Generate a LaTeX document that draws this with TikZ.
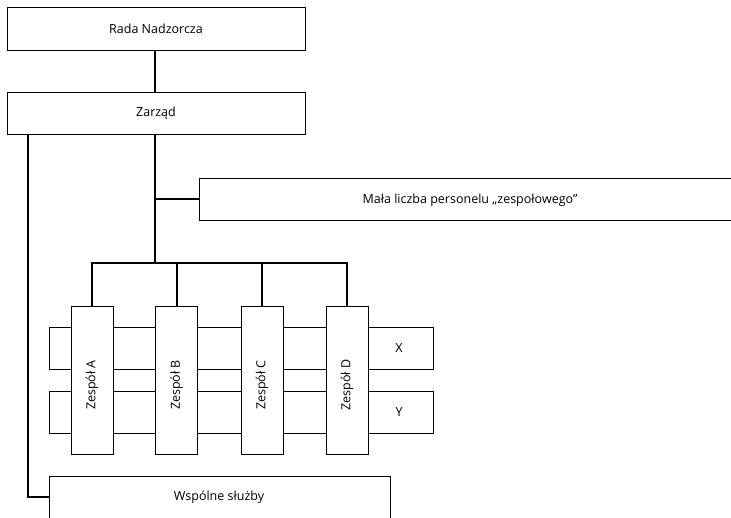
\documentclass[tikz,border=0pt]{standalone}
\usepackage{fontspec}
\setmainfont{Open Sans}
\begin{document}
\begin{tikzpicture}[x=1pt,y=-1pt,
  box/.style={draw=black, fill=white, line width=1pt, inner sep=0pt},
  link/.style={draw=black, line width=2pt},
  lbl/.style={font=\fontsize{12.5}{14}\selectfont, inner sep=0pt},
  teambox/.style={box, minimum width=42pt, minimum height=148pt},
  rowbox/.style={box, minimum width=384pt, minimum height=42pt}]
\useasboundingbox (0,0) rectangle (731,517);
\begin{scope}
\clip (0,0) rectangle (731,517);
% top levels
\node[box, minimum width=298pt, minimum height=43pt] (rada) at (156,28.5) {};
\node[lbl] at (rada.center) {Rada Nadzorcza};
\node[box, minimum width=298pt, minimum height=42pt] (zarzad) at (156,113) {};
\node[lbl] at (zarzad.center) {Zarząd};
% staff box running past the right edge
\node[box, minimum width=560pt, minimum height=42pt] (staff) at (479,199) {};
\node[lbl] at (470,200) {Mała liczba personelu „zespołowego”};
% common services running past the bottom edge
\node[box, minimum width=341pt, minimum height=60pt] (shared) at (219.5,506) {};
\node[lbl] at (219,497) {Wspólne służby};
% cross-team rows
\node[rowbox] (rowx) at (241,348) {};
\node[rowbox] (rowy) at (241,412) {};
% teams
\node[teambox] (ta) at (92,380) {};
\node[teambox] (tb) at (176.5,380) {};
\node[teambox] (tc) at (262,380) {};
\node[teambox] (td) at (347,380) {};
\node[lbl, rotate=90] at ([yshift=-5pt]ta.center) {Zespół A};
\node[lbl, rotate=90] at ([yshift=-5pt]tb.center) {Zespół B};
\node[lbl, rotate=90] at ([yshift=-5pt]tc.center) {Zespół C};
\node[lbl, rotate=90] at ([yshift=-5pt]td.center) {Zespół D};
\node[lbl] at (399,348) {X};
\node[lbl] at (399,412) {Y};
% connectors
\coordinate (bus) at (155,263);
\draw[link] (rada.south -| 155,0) -- (zarzad.north -| 155,0);
\draw[link] (zarzad.south -| 155,0) -- (bus);
\draw[link] (155,199) -- (staff.west);
\draw[link] (ta.north) |- (bus) -| (td.north);
\draw[link] (tb.north) -- (tb.north |- bus);
\draw[link] (tc.north) -- (tc.north |- bus);
\draw[link] (zarzad.south -| 28,0) |- (shared.west |- 0,497);
\end{scope}
\end{tikzpicture}
\end{document}
